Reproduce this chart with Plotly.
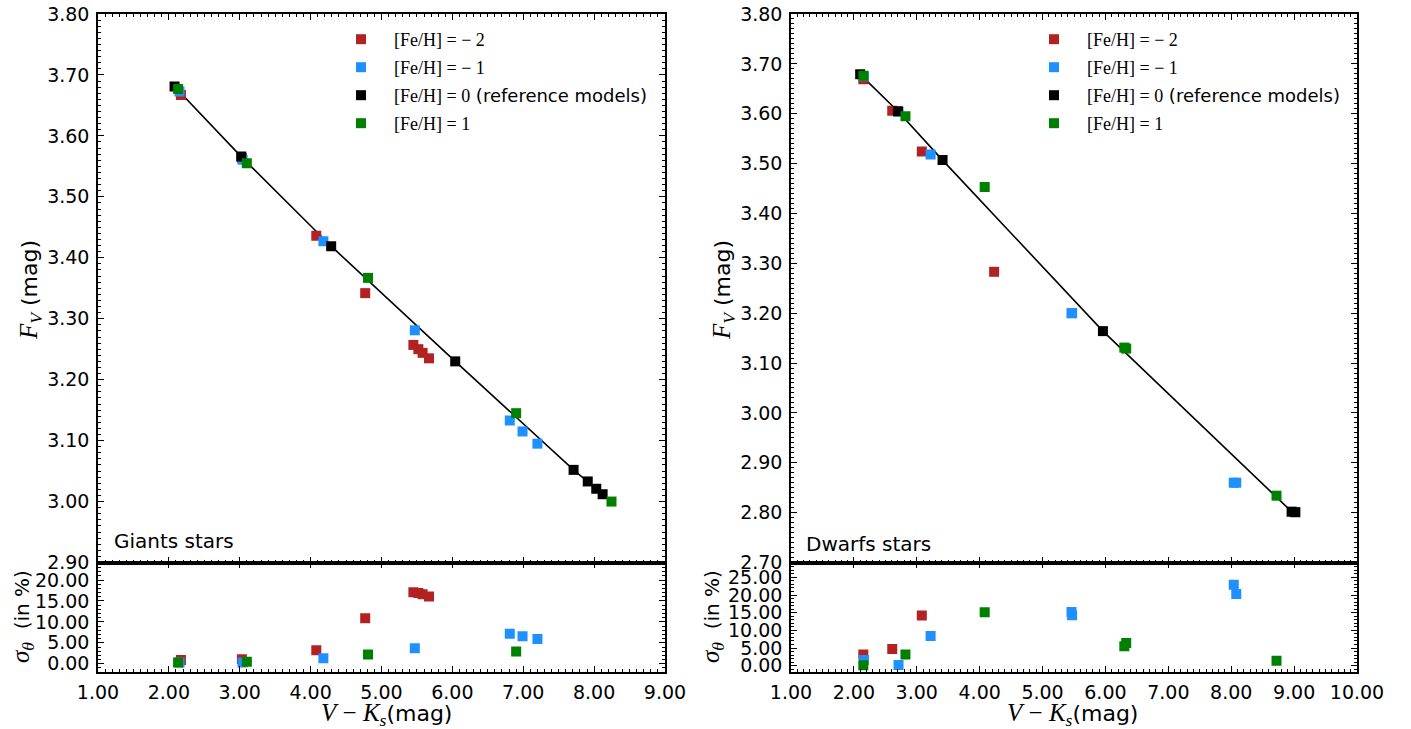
import plotly.graph_objects as go

# ---- Giants stars: V-Ks colour, surface-brightness F_V and sigma_theta (%) ----
g_m2_x = [2.17, 3.03, 4.08, 4.77, 5.45, 5.52, 5.58, 5.67]
g_m2_fv = [3.667, 3.564, 3.436, 3.342, 3.257, 3.250, 3.244, 3.235]
g_m2_sig = [0.9, 1.1, 3.2, 10.9, 17.1, 16.9, 16.6, 16.1]

g_m1_x = [2.15, 3.04, 4.18, 5.47, 6.81, 6.99, 7.20]
g_m1_fv = [3.673, 3.561, 3.427, 3.281, 3.133, 3.115, 3.095]
g_m1_sig = [0.3, 0.3, 1.3, 3.7, 7.2, 6.6, 5.9]

g_0_x = [2.08, 3.02, 4.29, 6.04, 7.71, 7.91, 8.03, 8.12]
g_0_fv = [3.681, 3.566, 3.419, 3.230, 3.052, 3.033, 3.021, 3.012]

g_p1_x = [2.13, 3.10, 4.81, 6.90, 8.245]
g_p1_fv = [3.677, 3.555, 3.367, 3.145, 3.000]
g_p1_sig_x = [2.13, 3.10, 4.81, 6.90]
g_p1_sig = [0.3, 0.5, 2.2, 2.9]

# ---- Dwarfs stars ----
d_m2_x = [2.15, 2.61, 3.08, 4.23]
d_m2_fv = [3.669, 3.606, 3.524, 3.283]
d_m2_sig_x = [2.15, 2.61, 3.08]
d_m2_sig = [3.2, 4.7, 14.2]

d_m1_x = [2.16, 2.71, 3.22, 5.46, 5.47, 8.04, 8.08]
d_m1_fv = [3.675, 3.604, 3.518, 3.200, 3.200, 2.860, 2.860]
d_m1_sig = [1.6, 0.2, 8.4, 15.2, 14.3, 22.9, 20.3]

d_0_x = [2.10, 2.70, 3.41, 5.96, 8.96, 9.02]
d_0_fv = [3.679, 3.605, 3.507, 3.164, 2.802, 2.801]

d_p1_x = [2.15, 2.82, 4.08, 6.30, 6.33, 8.72]
d_p1_fv = [3.676, 3.595, 3.453, 3.131, 3.129, 2.834]
d_p1_sig = [0.1, 3.2, 15.1, 5.5, 6.4, 1.4]

RED = "#B22222"
BLUE = "#1E90FF"
BLACK = "#000000"
GREEN = "#008000"

SERIF = "Liberation Serif"
SANS = "DejaVu Sans"


def feh(label, extra=""):
    txt = f"<span style='font-family:{SERIF}'>[Fe/H] {label}</span>"
    if extra:
        txt += f"<span style='font-family:{SANS}'> {extra}</span>"
    return txt


LABELS = [feh("= \u2212 2"), feh("= \u2212 1"), feh("= 0", "(reference models)"), feh("= 1")]

W, H = 1411, 729


def px_x(p):
    return p / W


def px_y(p):
    return 1 - p / H


# panel geometry (pixels)
L_LEFT, L_RIGHT = 98, 665
R_LEFT, R_RIGHT = 791, 1357
TOP, SPLIT, BOTTOM = 14, 562.5, 671.7

fig = go.Figure()


def sq(color):
    return dict(symbol="square", size=10, color=color, line=dict(width=0))


def add_panel(xa, ya, xb, yb, legend, group,
              m2, m1, z, p1, sig_m2, sig_m1, sig_p1):
    # reference-model relation drawn through the [Fe/H]=0 points
    fig.add_trace(go.Scatter(x=z[0], y=z[1], mode="lines",
                             line=dict(color="black", width=1.6),
                             xaxis=xa, yaxis=ya, showlegend=False, hoverinfo="skip"))
    series = [(m2, RED, LABELS[0]), (m1, BLUE, LABELS[1]),
              (z, BLACK, LABELS[2]), (p1, GREEN, LABELS[3])]
    for i, (d, c, lab) in enumerate(series):
        fig.add_trace(go.Scatter(x=d[0], y=d[1], mode="markers", marker=sq(c),
                                 name=lab, legend=legend, legendgroup=f"{group}{i}",
                                 xaxis=xa, yaxis=ya))
    for d, c in [(sig_m2, RED), (sig_m1, BLUE), (sig_p1, GREEN)]:
        fig.add_trace(go.Scatter(x=d[0], y=d[1], mode="markers", marker=sq(c),
                                 showlegend=False, xaxis=xb, yaxis=yb))


add_panel("x", "y", "x2", "y2", "legend", "g",
          (g_m2_x, g_m2_fv), (g_m1_x, g_m1_fv), (g_0_x, g_0_fv), (g_p1_x, g_p1_fv),
          (g_m2_x, g_m2_sig), (g_m1_x, g_m1_sig), (g_p1_sig_x, g_p1_sig))
add_panel("x3", "y3", "x4", "y4", "legend2", "d",
          (d_m2_x, d_m2_fv), (d_m1_x, d_m1_fv), (d_0_x, d_0_fv), (d_p1_x, d_p1_fv),
          (d_m2_sig_x, d_m2_sig), (d_m1_x, d_m1_sig), (d_p1_x, d_p1_sig))

TICKFONT = dict(family=SANS, size=19, color="black")


def axis(domain, rng, dtick, minor, labels=True, anchor=None):
    return dict(domain=domain, range=rng, dtick=dtick, tick0=0, tickformat=".2f",
                automargin=False,
                showgrid=False, zeroline=False, showline=True, linecolor="black",
                linewidth=1.5, mirror="allticks", ticks="inside", ticklen=6,
                tickwidth=1, tickcolor="black", showticklabels=labels,
                tickfont=TICKFONT, ticklabelstandoff=3, anchor=anchor,
                minor=dict(dtick=minor, ticks="inside", ticklen=3, tickwidth=1,
                           tickcolor="black", showgrid=False))


top_dom = [px_y(SPLIT), px_y(TOP)]
bot_dom = [px_y(BOTTOM), px_y(SPLIT)]
left_dom = [px_x(L_LEFT), px_x(L_RIGHT)]
right_dom = [px_x(R_LEFT), px_x(R_RIGHT)]

legend_common = dict(font=dict(family=SERIF, size=18, color="black"),
                     bgcolor="rgba(0,0,0,0)", borderwidth=0, itemwidth=56,
                     tracegroupgap=1.6, xanchor="left", yanchor="top",
                     itemclick=False, itemdoubleclick=False)

fig.update_layout(
    width=W, height=H, margin=dict(l=0, r=0, t=0, b=0, autoexpand=False),
    paper_bgcolor="white", plot_bgcolor="white",
    font=dict(family=SANS, color="black"),
    xaxis=axis(left_dom, [1, 9], 1, 0.1, labels=False, anchor="y"),
    yaxis=axis(top_dom, [2.90, 3.80], 0.1, 0.01, anchor="x"),
    xaxis2=axis(left_dom, [1, 9], 1, 0.1, anchor="y2"),
    yaxis2=axis(bot_dom, [-1.9, 24.2], 5, 1, anchor="x2"),
    xaxis3=axis(right_dom, [1, 10], 1, 0.1, labels=False, anchor="y3"),
    yaxis3=axis(top_dom, [2.70, 3.80], 0.1, 0.01, anchor="x3"),
    xaxis4=axis(right_dom, [1, 10], 1, 0.1, anchor="y4"),
    yaxis4=axis(bot_dom, [-1.7, 29.2], 5, 1, anchor="x4"),
    legend=dict(x=px_x(328), y=px_y(21), **legend_common),
    legend2=dict(x=px_x(1021), y=px_y(21), **legend_common),
)

TITLE = dict(family=SANS, size=22, color="black")
F_V = (f"<span style='font-family:{SERIF};font-size:25px'><i>F<sub>V</sub></i></span>"
       " (mag)")
SIG = (f"<span style='font-family:{SERIF};font-size:25px'><i>\u03c3<sub>\u03b8</sub></i></span>"
       "  (in %)")
VK = (f"<span style='font-family:{SERIF};font-size:25px'><i>V</i> \u2212 "
      "<i>K<sub>s</sub></i></span>(mag)")

annotations = [
    dict(x=px_x(30), y=px_y(290), text=F_V, textangle=-90, font=TITLE),
    dict(x=px_x(723), y=px_y(290), text=F_V, textangle=-90, font=TITLE),
    dict(x=px_x(22), y=px_y(617), text=SIG, textangle=-90, font=dict(TITLE, size=20)),
    dict(x=px_x(712), y=px_y(617), text=SIG, textangle=-90, font=dict(TITLE, size=20)),
    dict(x=px_x(386), y=px_y(714), text=VK, font=TITLE),
    dict(x=px_x(1072), y=px_y(714), text=VK, font=TITLE),
    dict(x=px_x(112), y=px_y(541), text="Giants stars", xanchor="left",
         font=dict(family=SANS, size=20, color="black")),
    dict(x=px_x(804), y=px_y(544), text="Dwarfs stars", xanchor="left",
         font=dict(family=SANS, size=20, color="black")),
]
for a in annotations:
    a.update(xref="paper", yref="paper", showarrow=False)
    a.setdefault("xanchor", "center")
    a.setdefault("yanchor", "middle")
fig.update_layout(annotations=annotations)

fig.write_html("out.html")
